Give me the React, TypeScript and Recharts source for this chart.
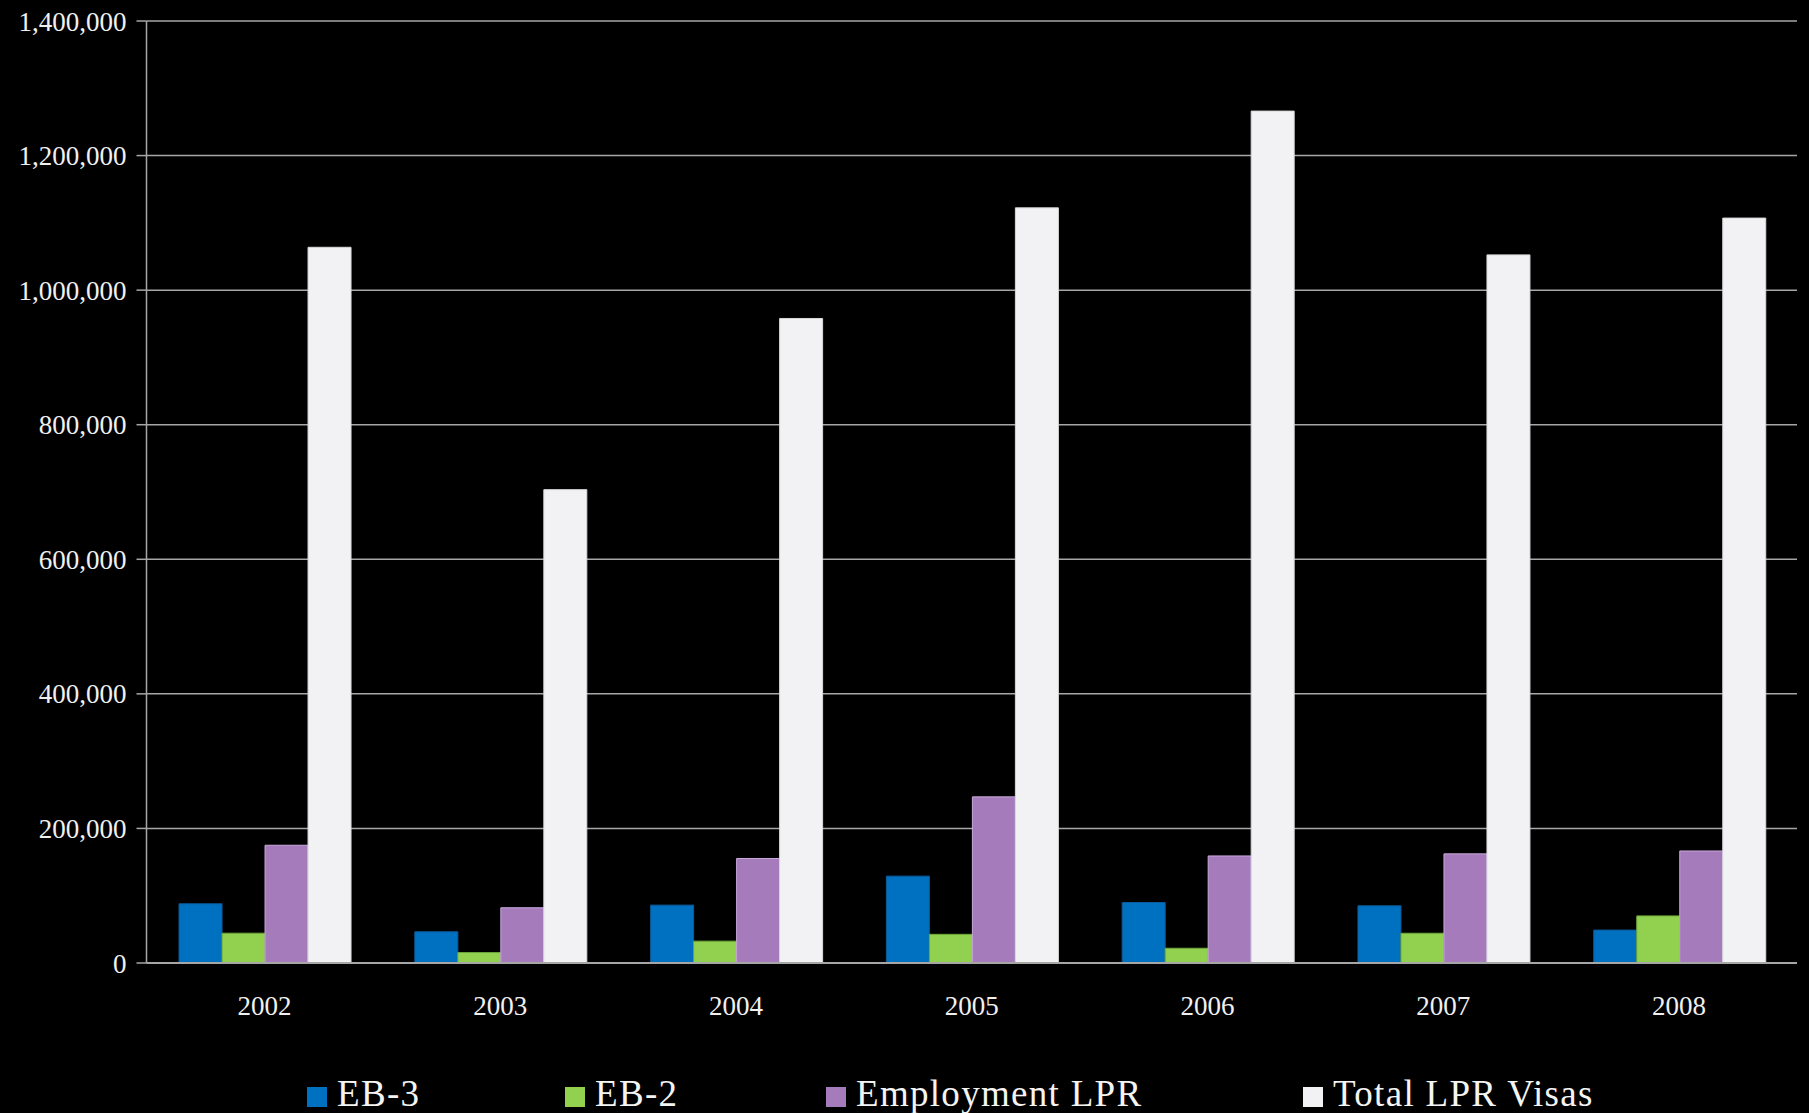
import React from "react";
import { BarChart, Bar, XAxis, YAxis, CartesianGrid } from "recharts";

const years = ["2002", "2003", "2004", "2005", "2006", "2007", "2008"];
const eb3 = [88000, 46400, 86000, 129100, 89900, 85000, 48900];
const eb2 = [44300, 15500, 32500, 42600, 21900, 44200, 70000];
const employmentLpr = [175000, 82100, 155300, 246900, 159100, 162200, 166500];
const totalLpr = [1063700, 703500, 957900, 1122300, 1266100, 1052400, 1107100];
const yTicks = [0, 200000, 400000, 600000, 800000, 1000000, 1200000, 1400000];

const series = [
  { key: "eb3", name: "EB-3", fill: "#0070C0", stroke: "#0b5c9c" },
  { key: "eb2", name: "EB-2", fill: "#92D050", stroke: "#6fa83a" },
  { key: "emp", name: "Employment LPR", fill: "#A57BBB", stroke: "#c9a8dc" },
  { key: "total", name: "Total LPR Visas", fill: "#F2F2F4", stroke: "#d8d8dc" },
];

// x of each legend item (Excel spaces them unevenly)
const legendLeft = [307, 565, 826, 1303];

const data = years.map((year, i) => ({
  year,
  eb3: eb3[i],
  eb2: eb2[i],
  emp: employmentLpr[i],
  total: totalLpr[i],
}));

const FONT = "'Liberation Serif', 'DejaVu Serif', serif";
const fmt = (v: number) => v.toLocaleString("en-US");

export default function App() {
  return (
    <div style={{ position: "relative", width: 1809, height: 1113, background: "#000", overflow: "hidden" }}>
      <style>{`body{margin:0;background:#000}`}</style>
      <BarChart
        width={1809}
        height={1113}
        data={data}
        margin={{ top: 21, right: 12, left: 0, bottom: 0 }}
        barCategoryGap="13.8%"
        barGap={0}
      >
        <CartesianGrid vertical={false} stroke="#a6a6a6" strokeWidth={1.5} />
        <XAxis
          dataKey="year"
          height={150}
          tickLine={false}
          tickSize={0}
          tickMargin={33}
          axisLine={{ stroke: "#a6a6a6", strokeWidth: 2 }}
          tick={{ fill: "#f0f0f0", fontSize: 27, fontFamily: FONT }}
        />
        <YAxis
          width={146.5}
          domain={[0, 1400000]}
          ticks={yTicks}
          tickFormatter={fmt}
          tickSize={10}
          tickMargin={10}
          axisLine={{ stroke: "#a6a6a6", strokeWidth: 1.5 }}
          tickLine={{ stroke: "#a6a6a6", strokeWidth: 1.5 }}
          tick={{ fill: "#f0f0f0", fontSize: 27, fontFamily: FONT }}
        />
        {series.map((s) => (
          <Bar
            key={s.key}
            dataKey={s.key}
            name={s.name}
            fill={s.fill}
            stroke={s.stroke}
            strokeWidth={1}
            isAnimationActive={false}
          />
        ))}
      </BarChart>
      {series.map((s, i) => (
        <div
          key={s.key}
          style={{
            position: "absolute",
            left: legendLeft[i],
            top: 1072,
            display: "flex",
            alignItems: "center",
            fontFamily: FONT,
            fontSize: 37,
            color: "#f4f4f4",
            whiteSpace: "nowrap",
            letterSpacing: 1.3,
          }}
        >
          <span style={{ display: "inline-block", width: 20, height: 20, background: s.fill, marginRight: 10, marginTop: 6 }} />
          <span>{s.name}</span>
        </div>
      ))}
    </div>
  );
}
